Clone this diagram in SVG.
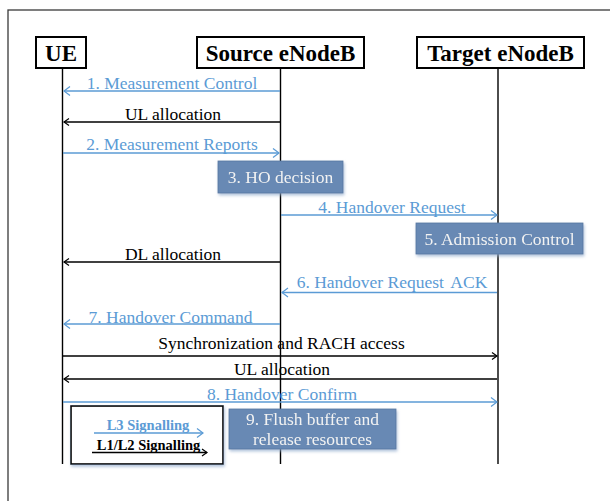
<svg xmlns="http://www.w3.org/2000/svg" width="610" height="501" viewBox="0 0 610 501">
  <defs>
    <marker id="headBlue" markerWidth="10" markerHeight="12" refX="7" refY="5" orient="auto" markerUnits="userSpaceOnUse">
      <polyline points="1,0.5 7,5 1,9.5" fill="none" stroke="#5B9BD5" stroke-width="1.2"/>
    </marker>
    <marker id="headBlack" markerWidth="10" markerHeight="12" refX="7" refY="5" orient="auto" markerUnits="userSpaceOnUse">
      <polyline points="2,1.5 7,5 2,8.5" fill="none" stroke="#000" stroke-width="1.2"/>
    </marker>
    <filter id="shade" x="-10%" y="-20%" width="125%" height="150%">
      <feGaussianBlur in="SourceAlpha" stdDeviation="1.5"/>
      <feOffset dx="1" dy="2" result="b"/>
      <feFlood flood-color="#8FA9CC" flood-opacity="0.7"/>
      <feComposite in2="b" operator="in"/>
      <feMerge><feMergeNode/><feMergeNode in="SourceGraphic"/></feMerge>
    </filter>
    <style>
      .frame { fill: #fff; stroke: #3a3a3a; stroke-width: 1.3; }
      .head rect { fill: #fff; stroke: #000; stroke-width: 2; }
      .head text { font-family: "Liberation Serif", "Times New Roman", serif; font-weight: bold; font-size: 23px; fill: #000; text-anchor: middle; }
      .life { stroke: #000; stroke-width: 1.4; fill: none; }
      .msg { font-family: "Liberation Serif", "Times New Roman", serif; font-size: 17.5px; text-anchor: middle; }
      .blue { fill: #5B9BD5; }
      .dark { fill: #000; }
      .lb { stroke: #5B9BD5; stroke-width: 1.4; fill: none; marker-end: url(#headBlue); }
      .lk { stroke: #000; stroke-width: 1.4; fill: none; marker-end: url(#headBlack); }
      .step rect { fill: #6789B4; stroke: #5877A0; stroke-width: 0.8; }
      .step text { font-family: "Liberation Serif", "Times New Roman", serif; font-size: 17.5px; fill: #F2F2F2; text-anchor: middle; }
      .legend rect { fill: #fff; stroke: #000; stroke-width: 1.6; }
      .legend text { font-family: "Liberation Serif", "Times New Roman", serif; font-weight: bold; font-size: 14.5px; text-anchor: middle; }
    </style>
  </defs>

  <!-- page frame -->
  <rect class="frame" x="8" y="10" width="620" height="520"/>

  <!-- lifelines -->
  <g id="lifelines">
    <line class="life" x1="62.5" y1="68" x2="62.5" y2="464"/>
    <line class="life" x1="280.5" y1="68" x2="280.5" y2="464"/>
    <line class="life" x1="498" y1="68" x2="498" y2="464"/>
  </g>

  <!-- entities -->
  <g id="ue" class="head">
    <rect x="36" y="37" width="50" height="31"/>
    <text x="61" y="61">UE</text>
  </g>
  <g id="source-enodeb" class="head">
    <rect x="197" y="37" width="167" height="31"/>
    <text x="280.5" y="61">Source eNodeB</text>
  </g>
  <g id="target-enodeb" class="head">
    <rect x="417" y="37" width="167" height="31"/>
    <text x="500.5" y="61">Target eNodeB</text>
  </g>

  <!-- messages -->
  <g id="connectors">
    <line class="lb" x1="280" y1="91" x2="64" y2="91"/>
    <line class="lk" x1="280" y1="122" x2="64" y2="122"/>
    <line class="lb" x1="63" y1="153" x2="279" y2="153"/>
    <line class="lb" x1="281" y1="215" x2="497" y2="215"/>
    <line class="lk" x1="280" y1="262" x2="64" y2="262"/>
    <line class="lb" x1="497" y1="292.5" x2="282" y2="292.5"/>
    <line class="lb" x1="280" y1="324" x2="64" y2="324"/>
    <line class="lk" x1="63" y1="356" x2="497" y2="356"/>
    <line class="lk" x1="497" y1="379" x2="64" y2="379"/>
    <line class="lb" x1="63" y1="402" x2="497" y2="402"/>
  </g>

  <g id="labels">
    <text class="msg blue" x="172" y="89">1. Measurement Control</text>
    <text class="msg dark" x="173" y="119.5">UL allocation</text>
    <text class="msg blue" x="172" y="150">2. Measurement Reports</text>
    <text class="msg blue" x="392" y="213">4. Handover Request</text>
    <text class="msg dark" x="173" y="259.5">DL allocation</text>
    <text class="msg blue" x="392" y="288">6. Handover Request<tspan dx="3"> ACK</tspan></text>
    <text class="msg blue" x="170.5" y="322.5">7. Handover Command</text>
    <text class="msg dark" x="281.5" y="348.5">Synchronization and RACH access</text>
    <text class="msg dark" x="282" y="374.5">UL allocation</text>
    <text class="msg blue" x="282" y="400">8. Handover Confirm</text>
  </g>

  <!-- processing steps -->
  <g id="ho-decision" class="step" filter="url(#shade)">
    <rect x="218" y="161" width="125" height="32"/>
    <text x="280.5" y="183">3. HO decision</text>
  </g>
  <g id="admission-control" class="step" filter="url(#shade)">
    <rect x="416" y="223" width="167" height="31"/>
    <text x="499.5" y="245">5. Admission Control</text>
  </g>
  <g id="flush-buffer" class="step" filter="url(#shade)">
    <rect x="229" y="409" width="167" height="40"/>
    <text x="312.5" y="424.5">9. Flush buffer and</text>
    <text x="312.5" y="445">release resources</text>
  </g>

  <!-- key -->
  <g id="legend" class="legend">
    <rect x="71" y="406" width="152" height="58" filter="url(#shade)"/>
    <text x="148" y="430" fill="#5B9BD5">L3 Signalling</text>
    <line class="lb" x1="94" y1="433" x2="203" y2="433"/>
    <text x="148.5" y="450" fill="#000">L1/L2 Signalling</text>
    <line class="lk" x1="92" y1="452.5" x2="207" y2="452.5"/>
  </g>
</svg>
